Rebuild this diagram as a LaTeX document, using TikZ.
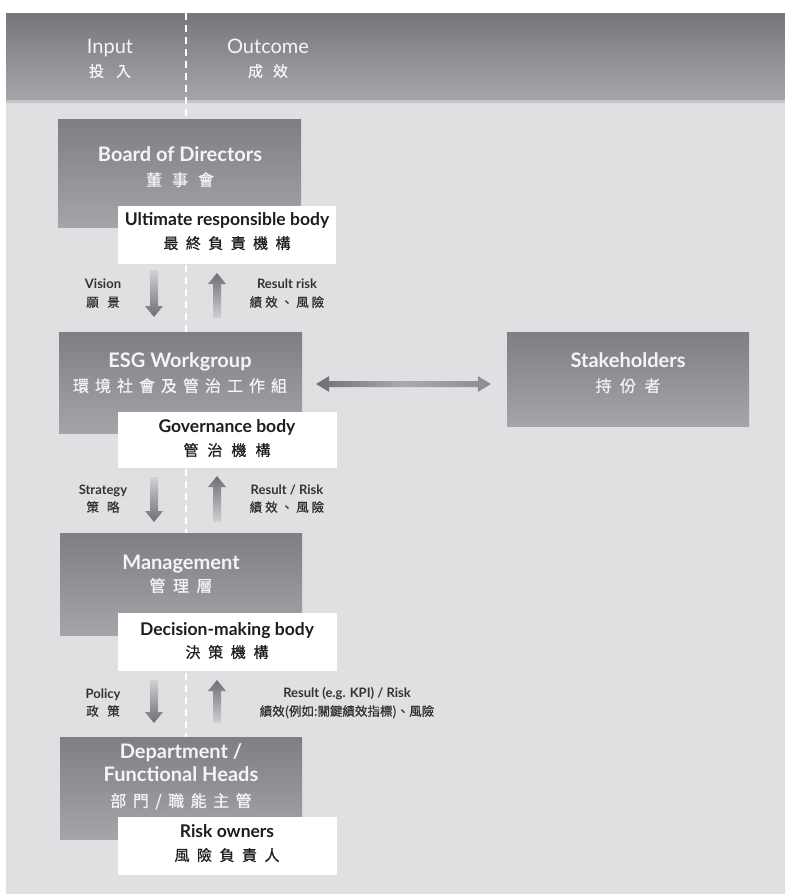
\documentclass[tikz,border=0pt]{standalone}
\usepackage{fontspec}
\setmainfont{Lato}
\newfontfamily\cjk{Noto Sans CJK TC}[FakeBold=0.8]
\usetikzlibrary{calc}
\definecolor{hdrtop}{HTML}{76777B}
\definecolor{hdrbot}{HTML}{A5A6AA}
\definecolor{strip}{HTML}{C4C5C8}
\definecolor{bgc}{HTML}{DFE0E2}
\definecolor{boxtop}{HTML}{7E7F83}
\definecolor{boxbot}{HTML}{A4A5A9}
\definecolor{darktext}{HTML}{F5F5F5}
\definecolor{whitetext}{HTML}{1E1E1E}
\definecolor{labeltext}{HTML}{333333}
\definecolor{ardark}{HTML}{6E6F73}
\definecolor{arlight}{HTML}{D0D1D3}
\definecolor{armid}{HTML}{A9AAAE}
\ExplSyntaxOn
\NewDocumentCommand\spreadtext{m m}{
  \bool_set_true:N \l_tmpa_bool
  \tl_map_inline:nn {#2} {
    \bool_if:NF \l_tmpa_bool {\hspace{#1}}
    \bool_set_false:N \l_tmpa_bool
    ##1
  }
}
\ExplSyntaxOff
\newcommand\arrowdown[2]{%
  \shade[top color=arlight, bottom color=ardark]
    let \p1=(#1), \p2=(#2) in
    (\x1-4,\y1) -- (\x1+4,\y1) -- (\x1+4,\y2+11) -- (\x1+9,\y2+11) --
    (\x1,\y2) -- (\x1-9,\y2+11) -- (\x1-4,\y2+11) -- cycle;}
\newcommand\arrowup[2]{%
  \shade[top color=ardark, bottom color=arlight]
    let \p1=(#1), \p2=(#2) in
    (\x1-4,\y1) -- (\x1+4,\y1) -- (\x1+4,\y2-11) -- (\x1+9,\y2-11) --
    (\x1,\y2) -- (\x1-9,\y2-11) -- (\x1-4,\y2-11) -- cycle;}
\tikzset{
  darkbox/.style={rectangle, inner sep=0pt, draw=none, top color=boxtop, bottom color=boxbot},
  whitebox/.style={rectangle, inner sep=0pt, draw=none, fill=white},
  lat/.style={inner sep=0pt, text height=0.72em, text depth=0pt, anchor=center},
  han/.style={inner sep=0pt, text height=0.88em, text depth=0.12em, anchor=center},
  boxtitle/.style={lat, text=darktext, font=\bfseries\fontsize{20}{20}\selectfont},
  boxhan/.style={han, text=darktext, font=\cjk\fontsize{16}{16}\selectfont},
  wtitle/.style={lat, text=whitetext, font=\bfseries\fontsize{17.5}{17.5}\selectfont},
  whan/.style={han, text=whitetext, font=\cjk\fontsize{15}{15}\selectfont},
  lbl/.style={lat, text=labeltext, font=\bfseries\fontsize{13}{13}\selectfont},
  lblhan/.style={han, text=labeltext, font=\cjk\fontsize{12.5}{12.5}\selectfont},
  hdr/.style={lat, text=darktext, font=\fontsize{20}{20}\selectfont},
  hdrhan/.style={han, text=darktext, font=\cjk\fontsize{15}{15}\selectfont},
}
\begin{document}
\begin{tikzpicture}[x=1pt,y=1pt]
\useasboundingbox (0,0) rectangle (785,-895);
\fill[white] (0,0) rectangle (785,-895);
% background panels
\fill[bgc] (6,-100) rectangle (785,-894);
\shade[top color=hdrtop, bottom color=hdrbot] (6,-13) rectangle (785,-100);
\fill[strip] (6,-100) rectangle (785,-103);
% dashed divider
\coordinate (dtop) at (186,-13);
\coordinate (dbot) at (186,-737);
\draw[white, line width=2pt, dash pattern=on 7pt off 5pt] (dtop) -- (dbot);
% header
\node[hdr] (input) at (110,-50) {Input};
\node[hdrhan] (inputc) at (110,-73) {\spreadtext{12pt}{投入}};
\node[hdr] (outcome) at (268,-50) {Outcome};
\node[hdrhan] (outcomec) at (268,-73) {\spreadtext{10pt}{成效}};
% Board
\node[darkbox, minimum width=243, minimum height=108] (board) at (179.5,-173) {};
\node[boxtitle] (boardt) at (180,-158) {Board of Directors};
\node[boxhan] (boardc) at (180,-182) {\spreadtext{10pt}{董事會}};
\node[whitebox, minimum width=218, minimum height=58] (w1) at (227,-235) {};
\node[wtitle] (w1t) at (227,-222) {Ultimate responsible body};
\node[whan] (w1c) at (227,-245) {\spreadtext{7.4pt}{最終負責機構}};
% ESG
\node[darkbox, minimum width=243, minimum height=101] (esg) at (180.5,-382.5) {};
\node[boxtitle] (esgt) at (180,-364) {ESG Workgroup};
\node[boxhan] (esgc) at (180,-388) {\spreadtext{6pt}{環境社會及管治工作組}};
\node[whitebox, minimum width=219, minimum height=56] (w2) at (227.5,-440) {};
\node[wtitle] (w2t) at (227,-429) {Governance body};
\node[whan] (w2c) at (227,-452) {\spreadtext{9pt}{管治機構}};
% Stakeholders
\node[darkbox, minimum width=242, minimum height=94] (stake) at (628,-379) {};
\node[boxtitle] (staket) at (628,-364) {Stakeholders};
\node[boxhan] (stakec) at (628,-388) {\spreadtext{8.5pt}{持份者}};
% Management
\node[darkbox, minimum width=242, minimum height=102] (mgmt) at (181,-584) {};
\node[boxtitle] (mgmtt) at (181,-566) {Management};
\node[boxhan] (mgmtc) at (181,-588) {\spreadtext{7.5pt}{管理層}};
\node[whitebox, minimum width=219, minimum height=58] (w3) at (227.5,-642) {};
\node[wtitle] (w3t) at (227,-632) {Decision-making body};
\node[whan] (w3c) at (227,-654) {\spreadtext{7.7pt}{決策機構}};
% Department
\node[darkbox, minimum width=242, minimum height=102] (dept) at (181,-788) {};
\node[boxtitle] (deptt1) at (181,-755) {Department /};
\node[boxtitle] (deptt2) at (181,-778) {Functional Heads};
\node[boxhan] (deptc) at (181,-803) {\spreadtext{6.5pt}{部門/職能主管}};
\node[whitebox, minimum width=219, minimum height=58] (w4) at (227.5,-846) {};
\node[wtitle] (w4t) at (227,-834) {Risk owners};
\node[whan] (w4c) at (227,-857) {\spreadtext{7.5pt}{風險負責人}};
% vertical arrows
\coordinate (a1s) at (154,-270); \coordinate (a1e) at (154,-317);
\coordinate (b1s) at (217,-318); \coordinate (b1e) at (217,-273);
\coordinate (a2s) at (154,-477); \coordinate (a2e) at (154,-522);
\coordinate (b2s) at (217,-522); \coordinate (b2e) at (217,-476);
\coordinate (a3s) at (154,-680); \coordinate (a3e) at (154,-723);
\coordinate (b3s) at (217,-723); \coordinate (b3e) at (217,-680);
\arrowdown{a1s}{a1e}
\arrowup{b1s}{b1e}
\arrowdown{a2s}{a2e}
\arrowup{b2s}{b2e}
\arrowdown{a3s}{a3e}
\arrowup{b3s}{b3e}
% arrow labels
\node[lbl] (l1) at (103,-285) {Vision};
\node[lblhan] (l1c) at (103,-303) {\spreadtext{8.5pt}{願景}};
\node[lbl] (r1) at (287,-285) {Result risk};
\node[lblhan] (r1c) at (287,-303) {\spreadtext{3pt}{績效、風險}};
\node[lbl] (l2) at (103,-491) {Strategy};
\node[lblhan] (l2c) at (103,-508) {\spreadtext{8pt}{策略}};
\node[lbl] (r2) at (287,-491) {Result / Risk};
\node[lblhan] (r2c) at (287,-508) {\spreadtext{3pt}{績效、風險}};
\node[lbl] (l3) at (103,-695) {Policy};
\node[lblhan] (l3c) at (103,-712) {\spreadtext{8.5pt}{政策}};
\node[lbl] (r3) at (347,-694) {Result (e.g. KPI) / Risk};
\node[lblhan] (r3c) at (347,-712) {績效(例如:關鍵績效指標)、風險};
% double arrow
\coordinate (ds) at ($(esg.east)+(14,-1.5)$);
\coordinate (de) at ($(stake.west)+(-16,-13)$);
\shade[left color=ardark, right color=ardark!80!white, middle color=armid]
  let \p1=(ds), \p2=(de) in
  (\x1,\y1) -- (\x1+13,\y1+8) -- (\x1+13,\y1+3) -- (\x2-13,\y1+3) -- (\x2-13,\y1+8) --
  (\x2,\y1) -- (\x2-13,\y1-8) -- (\x2-13,\y1-3) -- (\x1+13,\y1-3) -- (\x1+13,\y1-8) -- cycle;
\end{tikzpicture}
\end{document}
